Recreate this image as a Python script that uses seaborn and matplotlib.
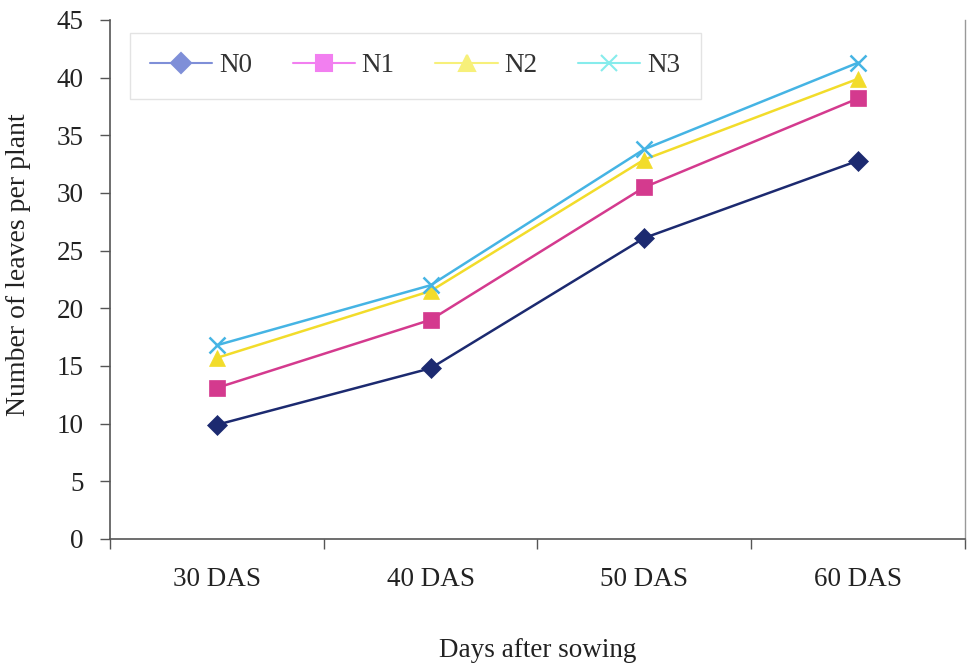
import matplotlib
matplotlib.use('Agg')
import matplotlib.pyplot as plt
from matplotlib.lines import Line2D
import pandas as pd
import seaborn as sns

sns.set_style('white')
plt.rcParams['font.family'] = ['Liberation Serif', 'DejaVu Serif']

# ── Data ──────────────────────────────────────────────────────────────────────
days    = ['30 DAS', '40 DAS', '50 DAS', '60 DAS']
series  = ['N0', 'N1', 'N2', 'N3']
n0      = [9.9, 14.8, 26.1, 32.8]
n1      = [13.1, 19.0, 30.5, 38.2]
n2      = [15.7, 21.5, 32.9, 39.9]
n3      = [16.8, 22.0, 33.8, 41.3]

line_colors   = ['#1c2a70', '#d43a8e', '#f2dc2a', '#45b4e4']
legend_colors = ['#7f8fd8', '#f27ff0', '#f7f07a', '#86ecec']
markers       = ['D', 's', '^', 'x']
msizes        = [10, 11, 11, 12]

df = pd.DataFrame({
    'day':    days * 4,
    'series': [s for s in series for _ in days],
    'value':  n0 + n1 + n2 + n3,
})

FS = 19.5

fig = plt.figure(figsize=(9.71, 6.64), dpi=100)
ax = fig.add_axes([0.1133, 0.1883, 0.8805, 0.7816])

# one call per series: filled and line-art markers can't share a style map
for name, color, marker, ms in zip(series, line_colors, markers, msizes):
    sub = df[df['series'] == name]
    sns.lineplot(data=sub, x='day', y='value', color=color, marker=marker,
                 markersize=ms, markeredgewidth=1.8 if marker == 'x' else 0.5,
                 markeredgecolor=color, linewidth=1.8, sort=False, ax=ax)

ax.set_xlim(-0.5, 3.5)
ax.set_ylim(0, 45)
ax.set_yticks(range(0, 46, 5))
ax.set_xticks([-0.5, 0.5, 1.5, 2.5, 3.5], minor=False)
ax.set_xticklabels([])
ax.set_xticks(range(4), minor=True)
ax.set_xticklabels(days, minor=True)
ax.tick_params(axis='x', which='major', length=7, direction='out', width=1,
               color='#555555', bottom=True)
ax.tick_params(axis='x', which='minor', length=0, pad=20, labelsize=FS,
               labelcolor='#222222')
ax.tick_params(axis='y', length=7, direction='out', width=1,
               color='#555555', left=True, labelsize=FS, pad=12,
               labelcolor='#222222')

for side in ['left', 'bottom']:
    ax.spines[side].set_color('#555555')
    ax.spines[side].set_linewidth(1.2)
ax.spines['right'].set_color('#999999')
ax.spines['right'].set_linewidth(1.0)
ax.spines['top'].set_visible(False)

ax.set_xlabel('Days after sowing', fontsize=FS, labelpad=33, color='#222222')
ax.set_ylabel('Number of leaves per plant', fontsize=FS + 0.5, color='#222222')
ax.yaxis.set_label_coords(-0.092, 0.528)

handles = [Line2D([0], [0], color=c, marker=m, markersize=ms, linewidth=1.5,
                  markeredgewidth=1.5)
           for c, m, ms in zip(legend_colors, markers, msizes)]
leg = ax.legend(handles, series, loc='upper left', bbox_to_anchor=(0.023, 0.975),
                ncol=4, fontsize=FS, frameon=True, fancybox=False,
                handlelength=2.3, handletextpad=0.25, columnspacing=1.5,
                borderpad=0.75, borderaxespad=0)
leg.get_frame().set_edgecolor('#dddddd')
for t in leg.get_texts():
    t.set_color('#333333')

fig.savefig('out.png', dpi=100)
